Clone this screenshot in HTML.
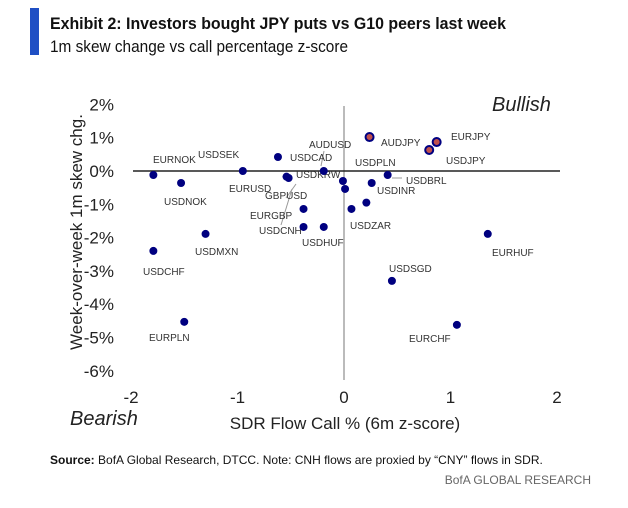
<!DOCTYPE html>
<html><head><meta charset="utf-8"><style>
body{margin:0;background:#fff;}
svg{display:block;font-family:"Liberation Sans",sans-serif;}
</style></head><body>
<svg width="628" height="508" viewBox="0 0 628 508">
<rect x="30" y="8" width="9" height="47" fill="#1f4fc4"/>
<text x="50" y="29" font-size="17" font-weight="bold" fill="#111" textLength="456" lengthAdjust="spacingAndGlyphs">Exhibit 2: Investors bought JPY puts vs G10 peers last week</text>
<text x="50" y="52" font-size="17" fill="#111" textLength="298" lengthAdjust="spacingAndGlyphs">1m skew change vs call percentage z-score</text>
<g id="plot"></g>
<text x="492" y="111" font-size="20" font-style="italic" fill="#222">Bullish</text>
<text x="70" y="425" font-size="20" font-style="italic" fill="#222">Bearish</text>
<text x="345" y="429" font-size="17" fill="#222" text-anchor="middle">SDR Flow Call % (6m z-score)</text>
<text transform="translate(82,232) rotate(-90)" font-size="17" fill="#222" text-anchor="middle">Week-over-week 1m skew chg.</text>
<text x="50" y="464" font-size="12" fill="#111"><tspan font-weight="bold">Source:</tspan>  BofA Global Research, DTCC. Note: CNH flows are proxied by “CNY” flows in SDR.</text>
<text x="591" y="484" font-size="12" fill="#666" text-anchor="end">BofA GLOBAL RESEARCH</text>
</svg>
<script>
const xTicks=[-2,-1,0,1,2];
const yTicks=[2,1,0,-1,-2,-3,-4,-5,-6];
const pairs=["EURNOK","USDNOK","EURUSD","USDCAD","GBPUSD","USDKRW","AUDUSD","USDPLN","USDINRX","EURGBP","USDCNH","USDHUF","USDMXN","USDCHF","EURPLN","AUDJPY","EURJPY","USDJPY","USDBRL","USDINR","USDZAR2","USDZAR","EURHUF","USDSGD","EURCHF"];
const xVals=[-1.79,-1.53,-0.95,-0.62,-0.54,-0.52,-0.19,-0.01,0.01,-0.38,-0.38,-0.19,-1.30,-1.79,-1.50,0.24,0.87,0.80,0.41,0.26,0.21,0.07,1.35,0.45,1.06];
const yVals=[-0.12,-0.36,0,0.42,-0.17,-0.21,0,-0.30,-0.54,-1.14,-1.68,-1.68,-1.89,-2.40,-4.53,1.02,0.87,0.63,-0.12,-0.36,-0.95,-1.14,-1.89,-3.30,-4.62];
const jpy=[false,false,false,false,false,false,false,false,false,false,false,false,false,false,false,true,true,true,false,false,false,false,false,false,false];
const labels=[["EURNOK",153,163],["USDNOK",164,205],["USDSEK",198,158],["USDCAD",290,161],["EURUSD",229,192],["GBPUSD",265,199],["USDKRW",296,178],["AUDUSD",309,148],["USDPLN",355,166],["USDBRL",406,184],["USDINR",377,194],["EURGBP",250,219],["USDCNH",259,234],["USDHUF",302,246],["USDZAR",350,229],["USDMXN",195,255],["USDCHF",143,275],["EURPLN",149,341],["AUDJPY",381,146],["EURJPY",451,140],["USDJPY",446,164],["EURHUF",492,256],["USDSGD",389,272],["EURCHF",409,342]];
const NS="http://www.w3.org/2000/svg";
const g=document.getElementById('plot');
const sx=v=>344+v*106.5;
const sy=v=>171-v*33.3;
function mk(t,a,p){const e=document.createElementNS(NS,t);for(const k in a)e.setAttribute(k,a[k]);(p||g).appendChild(e);return e;}
xTicks.forEach(t=>{const e=mk('text',{x:sx(t),y:403,'font-size':17,fill:'#222','text-anchor':'middle'});e.textContent=t<0?'-'+Math.abs(t):t;

});
yTicks.forEach(t=>{const e=mk('text',{x:114,y:sy(t)+6,'font-size':17,fill:'#222','text-anchor':'end'});e.textContent=(t<0?'-'+Math.abs(t):t)+'%';

});
const vl=mk('line',{x1:sx(0),x2:sx(0),y1:106,y2:380,stroke:'#bbb','stroke-width':2});


const hl=mk('line',{x1:133,x2:560,y1:sy(0),y2:sy(0),stroke:'#222','stroke-width':1.5});


[[324,151,321,166,],[296,184,286,198],[292,189,281,225],[392,178,402,178]].forEach(l=>{const e=mk('line',{x1:l[0],y1:l[1],x2:l[2],y2:l[3],stroke:'#999','stroke-width':1});

});
labels.forEach(l=>{const e=mk('text',{x:l[1],y:l[2],'font-size':10,fill:'#333'});e.textContent=l[0];

});
xVals.forEach((v,i)=>{const c=mk('circle',{cx:sx(v),cy:sy(yVals[i]),r:4,fill:jpy[i]?'#c0504d':'#000080',stroke:'#000080','stroke-width':jpy[i]?2:0});

});
</script>
</body></html>
